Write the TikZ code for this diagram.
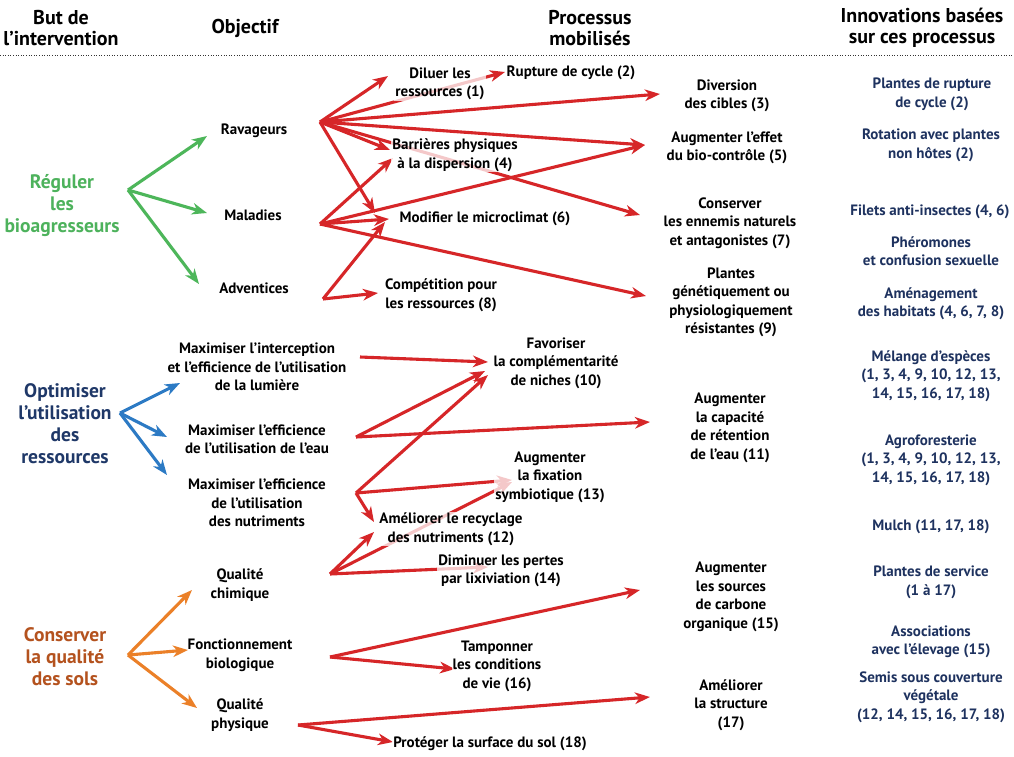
\documentclass[tikz,border=0pt]{standalone}
\usepackage{fontspec}
\setmainfont{PT Sans}
\usetikzlibrary{arrows.meta}
\definecolor{cred}{RGB}{214,38,40}
\definecolor{cgreen}{RGB}{77,182,90}
\definecolor{cblue}{RGB}{44,122,196}
\definecolor{corange}{RGB}{235,128,40}
\definecolor{tgreen}{RGB}{77,178,92}
\definecolor{tnavy}{RGB}{31,56,104}
\definecolor{tbrown}{RGB}{180,82,30}
\definecolor{inavy}{RGB}{30,50,95}
\pgfdeclarelayer{bg}
\pgfsetlayers{bg,main}
\tikzset{
 txt/.style={font=\bfseries\fontsize{15}{18.5}\selectfont, align=center, inner sep=1pt},
 hdr/.style={font=\bfseries\fontsize{20}{21}\selectfont, align=center, inner sep=1pt},
 proc/.style={txt, fill=white, fill opacity=0.75, text opacity=1},
 inno/.style={txt, text=inavy},
 big/.style={font=\bfseries\fontsize{19.5}{22}\selectfont, align=center, inner sep=1pt},
 arr/.style={line width=3.1pt, -{Stealth[length=15pt,width=11.5pt,inset=4.5pt]}},
 ra/.style={arr, draw=cred},
 ga/.style={arr, draw=cgreen},
 ba/.style={arr, draw=cblue},
 oa/.style={arr, draw=corange},
 sep/.style={line width=1pt, dash pattern=on 1pt off 1.6pt, draw=black!80}
}
\begin{document}
\begin{tikzpicture}[x=1pt,y=-1pt]
\useasboundingbox (0,0) rectangle (1014,756);
\begin{pgfonlayer}{bg}
\fill[white] (0,0) rectangle (1014,756);
\end{pgfonlayer}

% headers
\node[hdr] (h1) at (61,28) {But de\\l’intervention};
\node[hdr] (h2) at (245,28) {Objectif};
\node[hdr] (h3) at (590,28) {Processus\\mobilisés};
\node[hdr] (h4) at (922,28) {Innovations basées\\sur ces processus};
\draw[sep] (0,55) -- (1014,55);

% column 1
\node[big, text=tgreen] (g1) at (62,206) {Réguler\\les\\bioagresseurs};
\node[big, text=tnavy] (g2) at (65,424) {Optimiser\\l’utilisation\\des\\ressources};
\node[big, text=tbrown] (g3) at (65,657) {Conserver\\la qualité\\des sols};

% column 2
\node[txt] (rav) at (254,131) {Ravageurs};
\node[txt] (mal) at (253,215) {Maladies};
\node[txt] (adv) at (254,288) {Adventices};
\node[txt] (mi) at (257,367) {Maximiser l’interception\\et l’efficience de l\symbol{"27}utilisation\\de la lumière};
\node[txt] (me) at (257,439.5) {Maximiser l’efficience\\de l’utilisation de l’eau};
\node[txt] (mn) at (257,503) {Maximiser l’efficience\\de l’utilisation\\des nutriments};
\node[txt] (qc) at (240,585) {Qualité\\chimique};
\node[txt] (fb) at (240,655) {Fonctionnement\\biologique};
\node[txt] (qp) at (240,715) {Qualité\\physique};

% column 3
\node[proc] (dil) at (440,84) {Diluer les\\ressources (1)};
\node[proc] (rup) at (571,73) {Rupture de cycle (2)};
\node[proc] (bar) at (455,155) {Barrières physiques\\à la dispersion (4)};
\node[proc] (mod) at (485,219) {Modifier le microclimat (6)};
\node[proc] (com) at (441,295) {Compétition pour\\les ressources (8)};
\node[proc] (div) at (727,96) {Diversion\\des cibles (3)};
\node[proc] (aug) at (727,148) {Augmenter l’effet\\du bio-contrôle (5)};
\node[proc] (con) at (730,223) {Conserver\\les ennemis naturels\\et antagonistes (7)};
\node[proc] (pla) at (731,302.5) {Plantes\\génétiquement ou\\physiologiquement\\résistantes (9)};
\node[proc] (fav) at (556,363) {Favoriser\\la complémentarité\\de niches (10)};
\node[proc] (cap) at (730,428) {Augmenter\\la capacité\\de rétention\\de l’eau (11)};
\node[proc] (fix) at (550,477) {Augmenter\\la fixation\\symbiotique (13)};
\node[proc] (rec) at (451,529) {Améliorer le recyclage\\des nutriments (12)};
\node[proc] (dim) at (501,571) {Diminuer les pertes\\par lixiviation (14)};
\node[proc] (sou) at (731,597) {Augmenter\\les sources\\de carbone\\organique (15)};
\node[proc] (tam) at (497,666) {Tamponner\\les conditions\\de vie (16)};
\node[proc] (str) at (731,705) {Améliorer\\la structure\\(17)};
\node[proc] (pro) at (490,744) {Protéger la surface du sol (18)};

% column 4
\node[inno] (i1) at (932,94.5) {Plantes de rupture\\de cycle (2)};
\node[inno] (i2) at (931,145.5) {Rotation avec plantes\\non hôtes (2)};
\node[inno] (i3) at (930,212) {Filets anti-insectes (4, 6)};
\node[inno] (i4) at (931,251) {Phéromones\\et confusion sexuelle};
\node[inno] (i5) at (931,303.5) {Aménagement\\des habitats (4, 6, 7, 8)};
\node[inno] (i6) at (931,376) {Mélange d’espèces\\(1, 3, 4, 9, 10, 12, 13,\\14, 15, 16, 17, 18)};
\node[inno] (i7) at (931,460) {Agroforesterie\\(1, 3, 4, 9, 10, 12, 13,\\14, 15, 16, 17, 18)};
\node[inno] (i8) at (931,527) {Mulch (11, 17, 18)};
\node[inno] (i9) at (931,582.5) {Plantes de service\\(1 à 17)};
\node[inno] (i10) at (931,642) {Associations\\avec l’élevage (15)};
\node[inno] (i11) at (931,697) {Semis sous couverture\\végétale\\(12, 14, 15, 16, 17, 18)};

% origins
\coordinate (go) at (128,190);
\coordinate (bo) at (120,413);
\coordinate (oo) at (128,655);
\coordinate (ro) at (320,122);
\coordinate (mo) at (320,224);
\coordinate (ao) at (323,299);
\coordinate (io) at (360,357);
\coordinate (eo) at (356,437);
\coordinate (no) at (356,493);
\coordinate (co) at (330,574);
\coordinate (fo) at (330,657);
\coordinate (po) at (298,725);

% tips
\coordinate (t-rav) at (207,136);
\coordinate (t-mal) at (207,213);
\coordinate (t-adv) at (199,284);
\coordinate (t-mi) at (180,383);
\coordinate (t-me) at (167,437);
\coordinate (t-mn) at (167,475);
\coordinate (t-qc) at (192,590);
\coordinate (t-fb) at (188,650);
\coordinate (t-qp) at (197,708);
\coordinate (t-dil) at (388,76);
\coordinate (t-rup) at (505,72);
\coordinate (t-div) at (660,94);
\coordinate (t-bar1) at (390,150);
\coordinate (t-bar2) at (393,158);
\coordinate (t-aug) at (645,145);
\coordinate (t-mod1) at (375,213);
\coordinate (t-mod2) at (389,219);
\coordinate (t-mod3) at (385,222);
\coordinate (t-con) at (640,215);
\coordinate (t-pla) at (646,296);
\coordinate (t-com) at (378,293);
\coordinate (t-fav1) at (488,362);
\coordinate (t-fav2) at (485,371);
\coordinate (t-fav3) at (488,375);
\coordinate (t-cap) at (650,422);
\coordinate (t-fix1) at (512,480);
\coordinate (t-fix2) at (512,482);
\coordinate (t-rec1) at (374,522);
\coordinate (t-rec2) at (374,532);
\coordinate (t-dim) at (488,567);
\coordinate (t-sou) at (640,590);
\coordinate (t-tam) at (455,669);
\coordinate (t-str) at (650,697);
\coordinate (t-pro) at (393,742);

\begin{pgfonlayer}{bg}
\foreach \t in {t-rav,t-mal,t-adv} \draw[ga] (go) -- (\t);
\foreach \t in {t-mi,t-me,t-mn} \draw[ba] (bo) -- (\t);
\foreach \t in {t-qc,t-fb,t-qp} \draw[oa] (oo) -- (\t);
\foreach \t in {t-dil,t-rup,t-div,t-bar1,t-aug,t-mod1,t-con} \draw[ra] (ro) -- (\t);
\foreach \t in {t-bar2,t-aug,t-mod2,t-pla} \draw[ra] (mo) -- (\t);
\foreach \t in {t-mod3,t-com} \draw[ra] (ao) -- (\t);
\draw[ra] (io) -- (t-fav1);
\foreach \t in {t-fav2,t-cap} \draw[ra] (eo) -- (\t);
\foreach \t in {t-fav3,t-fix1,t-rec1} \draw[ra] (no) -- (\t);
\foreach \t in {t-rec2,t-fix2,t-dim} \draw[ra] (co) -- (\t);
\foreach \t in {t-sou,t-tam} \draw[ra] (fo) -- (\t);
\foreach \t in {t-str,t-pro} \draw[ra] (po) -- (\t);
\end{pgfonlayer}
\end{tikzpicture}
\end{document}
